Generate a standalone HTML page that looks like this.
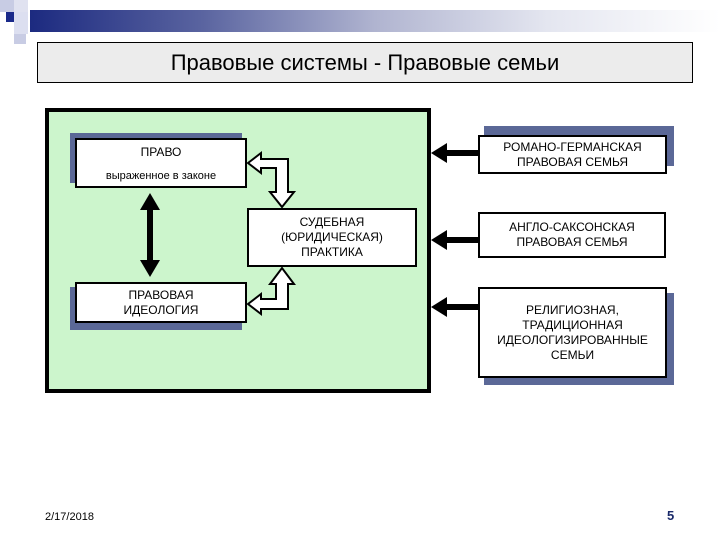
<!DOCTYPE html>
<html><head><meta charset="utf-8"><style>
body{margin:0;width:720px;height:540px;background:#fff;position:relative;overflow:hidden;font-family:"Liberation Sans","DejaVu Sans",sans-serif}
.a{position:absolute}
.box{position:absolute;background:#fff;border:2px solid #000;box-sizing:border-box;text-align:center;font-size:12px;line-height:15px;color:#000;display:flex;flex-direction:column;justify-content:center}
.sh{position:absolute;background:#5b6897}
</style></head><body>
<div class="a" style="left:0;top:0;width:14px;height:12px;background:#c8cce4"></div>
<div class="a" style="left:14px;top:0;width:14px;height:12px;background:#e0e2f0"></div>
<div class="a" style="left:6px;top:12px;width:8px;height:10px;background:#1a2a8a"></div>
<div class="a" style="left:14px;top:12px;width:14px;height:22px;background:#dcdff0"></div>
<div class="a" style="left:14px;top:34px;width:12px;height:10px;background:#c8cce4"></div>
<div class="a" style="left:30px;top:10px;width:690px;height:22px;background:linear-gradient(to right,#1c2a80,#5a64a0 25%,#b0b4d0 50%,#e4e6f0 75%,#fff)"></div>
<div class="a" style="left:37px;top:42px;width:654px;height:39px;background:#ececec;border:1px solid #000;text-align:center;font-size:22px;line-height:39px">Правовые системы - Правовые семьи</div>

<div class="a" style="left:45px;top:108px;width:386px;height:285px;background:#ccf5cc;border:4px solid #000;box-sizing:border-box"></div>

<div class="sh" style="left:70px;top:133px;width:172px;height:50px"></div>
<div class="box" style="left:75px;top:138px;width:172px;height:50px;justify-content:space-between;padding:5px 0 2px"><span>ПРАВО</span><span style="font-size:11px">выраженное в законе</span></div>
<div class="sh" style="left:70px;top:287px;width:172px;height:43px"></div>
<div class="box" style="left:75px;top:282px;width:172px;height:41px">ПРАВОВАЯ<br>ИДЕОЛОГИЯ</div>
<div class="box" style="left:247px;top:208px;width:170px;height:59px">СУДЕБНАЯ<br>(ЮРИДИЧЕСКАЯ)<br>ПРАКТИКА</div>

<div class="sh" style="left:484px;top:126px;width:190px;height:40px"></div>
<div class="box" style="left:478px;top:135px;width:189px;height:39px">РОМАНО-ГЕРМАНСКАЯ<br>ПРАВОВАЯ СЕМЬЯ</div>
<div class="box" style="left:478px;top:212px;width:188px;height:46px">АНГЛО-САКСОНСКАЯ<br>ПРАВОВАЯ СЕМЬЯ</div>
<div class="sh" style="left:484px;top:293px;width:190px;height:92px"></div>
<div class="box" style="left:478px;top:287px;width:189px;height:91px">РЕЛИГИОЗНАЯ,<br>ТРАДИЦИОННАЯ<br>ИДЕОЛОГИЗИРОВАННЫЕ<br>СЕМЬИ</div>

<svg class="a" style="left:0;top:0" width="720" height="540">
<g fill="#000">
<rect x="443" y="150" width="35" height="6"/><polygon points="431,153 447,143 447,163"/>
<rect x="443" y="237" width="35" height="6"/><polygon points="431,240 447,230 447,250"/>
<rect x="443" y="304" width="35" height="6"/><polygon points="431,307 447,297 447,317"/>
<rect x="147" y="207" width="6" height="56"/>
<polygon points="150,193 140,210 160,210"/><polygon points="150,277 140,260 160,260"/>
</g>
<g fill="#fff" stroke="#000" stroke-width="2" stroke-linejoin="miter">
<polygon points="248,163 261,153 261,159 288,159 288,192 294,192 282,207 270,192 276,192 276,168 261,168 261,173"/>
<polygon points="248,304 261,294 261,299 276,299 276,284 270,284 282,268 294,284 288,284 288,309 261,309 261,314"/>
</g>
</svg>
<div class="a" style="left:45px;top:511px;font-size:11px">2/17/2018</div>
<div class="a" style="left:667px;top:508px;font-size:13px;font-weight:bold;color:#1a2a6a">5</div>
</body></html>
